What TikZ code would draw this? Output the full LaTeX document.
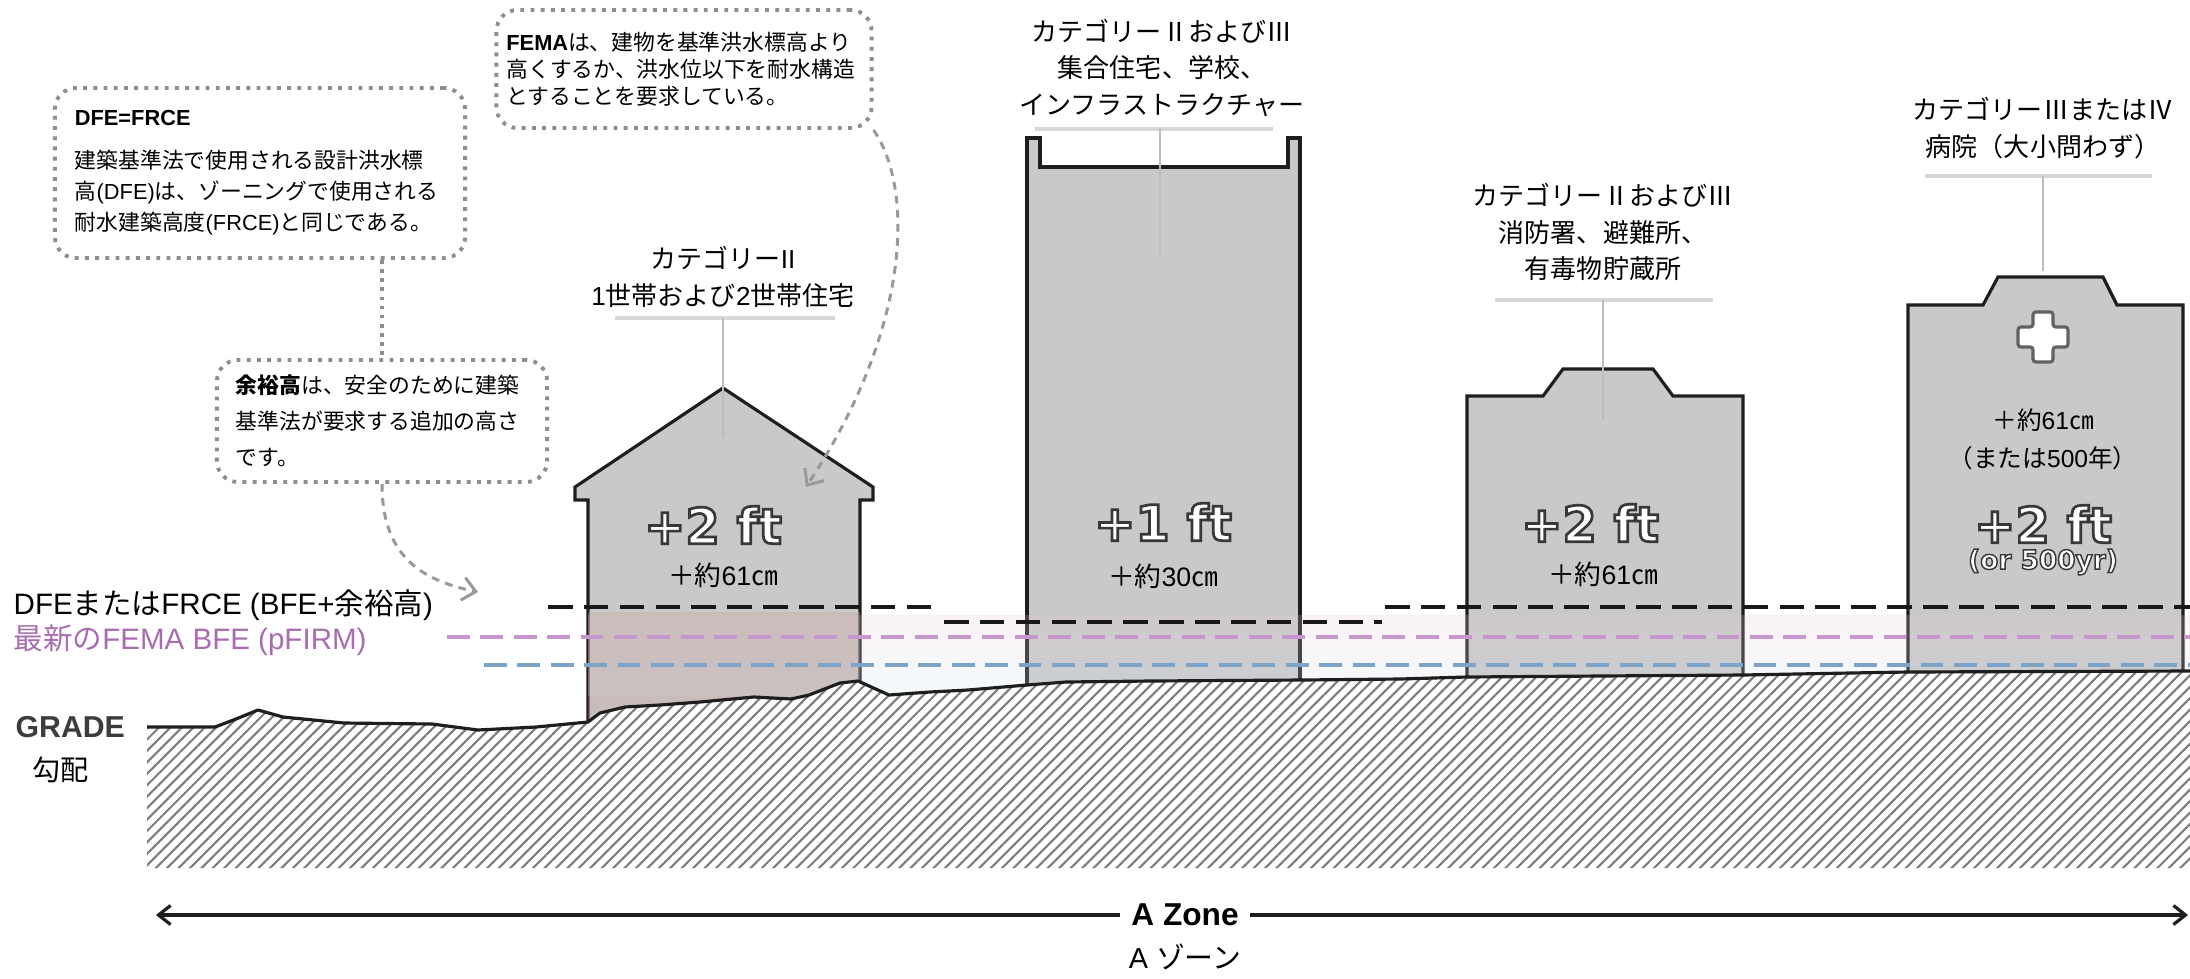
\documentclass[tikz,border=0pt]{standalone}
\usepackage{fontspec}
\setmainfont{Liberation Sans}
\newfontfamily\jafont{Noto Sans CJK JP}
\newfontface\riseface{DejaVu Sans Bold}[FakeBold=5.5]
\usetikzlibrary{arrows.meta,patterns.meta}

% Japanese characters are set in the CJK face automatically
\XeTeXinterchartokenstate=1
\chardef\JaClass=77
\newcount\jacode
\newcommand{\jarange}[2]{\jacode=#1\relax
  \loop\ifnum\jacode<#2\relax
    \XeTeXcharclass\jacode=\JaClass
    \advance\jacode by 1
  \repeat}
\jarange{"2160}{"2190}
\jarange{"3000}{"A000}
\jarange{"FF00}{"FFF0}
\XeTeXinterchartoks 0 \JaClass = {\begingroup\jafont}
\XeTeXinterchartoks 4095 \JaClass = {\begingroup\jafont}
\XeTeXinterchartoks \JaClass 0 = {\endgroup}
\XeTeXinterchartoks \JaClass 4095 = {\endgroup}

\definecolor{WallGray}{HTML}{C9C9C9}
\definecolor{InkBlack}{HTML}{1E1E1E}
\definecolor{NoteGray}{HTML}{8E8E8E}
\definecolor{LeadGray}{HTML}{BDBDBD}
\definecolor{RuleGray}{HTML}{D7D7D7}
\definecolor{BfePurple}{HTML}{C597CC}
\definecolor{BfeText}{HTML}{A96CB0}
\definecolor{PrelimBlue}{HTML}{7CA4C9}
\definecolor{HatchGray}{HTML}{7C7C7C}
\definecolor{GradeInk}{HTML}{3C3C3C}
\definecolor{FloodPink}{HTML}{EAC8D4}
\definecolor{FloodBlue}{HTML}{CFE6F3}
\definecolor{HouseTint}{HTML}{C7A49B}
\definecolor{RiseEdge}{HTML}{626262}

\newcommand{\notefont}{\fontsize{6.2}{8.8}\selectfont}
\newcommand{\catfont}{\fontsize{7.4}{10.5}\selectfont}
\newcommand{\metricfont}{\fontsize{7.6}{9.5}\selectfont}
\newcommand{\legendfont}{\fontsize{8.4}{10}\selectfont}
\newcommand{\bigrise}{\riseface\fontsize{14}{16}\selectfont}
\newcommand{\smallrise}{\riseface\fontsize{7.5}{9}\selectfont}
% white letters, dark stroke round them
\newcommand{\rimmed}[1]{\special{pdf:code 0.22 0.22 0.22 RG}#1}

\tikzset{
  building/.style={fill=WallGray,draw=InkBlack,line width=0.9pt,line join=miter},
  callout/.style={draw=NoteGray,line width=1.1pt,dash pattern=on 1.1pt off 1.8pt,
              rounded corners=6pt,fill=white,align=left,font=\notefont},
  notelink/.style={draw=NoteGray,line width=0.9pt,dash pattern=on 1pt off 1.6pt},
  pointer/.style={draw=NoteGray!90,line width=0.85pt,dash pattern=on 2.2pt off 1.8pt,
              -{Straight Barb[length=1.3mm,width=2.3mm]}},
  category/.style={align=center,font=\catfont,inner sep=1pt},
  rulebar/.style={draw=RuleGray,line width=0.9pt},
  leader/.style={draw=LeadGray,line width=0.45pt},
  metric/.style={align=center,font=\metricfont,inner sep=1pt},
  rise/.style={inner sep=0pt,text=white},
  crossmark/.style={fill=white,draw=RiseEdge,line width=0.9pt,rounded corners=0.8pt},
  dfeline/.style={draw=black!90,line width=1.2pt,dash pattern=on 7pt off 3.2pt},
  bfeline/.style={draw=BfePurple,line width=1pt,dash pattern=on 6.5pt off 3pt},
  prelimline/.style={draw=PrelimBlue,line width=1pt,dash pattern=on 6.5pt off 3pt},
  gradeline/.style={draw=InkBlack,line width=0.9pt,line join=round},
  zonearrow/.style={draw=InkBlack,line width=0.9pt}
}

\begin{document}
\begin{tikzpicture}[x=0.01cm,y=-0.01cm]
  \fill[white] (0,0) rectangle (2190,978);
  \useasboundingbox (0,0) rectangle (2190,978);

  % buildings
  \draw[building] (588,740) -- (588,500) -- (575,500) -- (575,487) -- (723,388)
    -- (873,487) -- (873,500) -- (860,500) -- (860,740) -- cycle;
  \draw[building] (1027,740) -- (1027,138) -- (1040,138) -- (1040,167) -- (1288,167)
    -- (1288,138) -- (1300,138) -- (1300,740) -- cycle;
  \draw[building] (1467,740) -- (1467,396) -- (1543,396) -- (1563,369) -- (1653,369)
    -- (1673,396) -- (1743,396) -- (1743,740) -- cycle;
  \draw[building] (1908,740) -- (1908,305) -- (1983,305) -- (1998,277) -- (2103,277)
    -- (2117,305) -- (2183,305) -- (2183,740) -- cycle;

  % flood band
  \shade[top color=FloodPink,bottom color=FloodBlue,opacity=0.22] (588,615) rectangle (2190,695);
  \fill[HouseTint,opacity=0.3] (588,612) rectangle (860,730);

  % ground
  \foreach \gx/\gy [count=\i] in {147/727,215/727,236/719,258/710,283/717,344/723,
      432/724,478/730,536/727,588/722,600/713,625/707,660/705,700/702,754/697,
      791/699,809/695,840/683,858/681,889/695,930/692,968/690,1027/685,1066/682,
      1150/681,1302/680,1400/679,1467/677,1600/676,1743/675,1850/673,1908/672,2190/671}
    \coordinate (g\i) at (\gx,\gy);
  \fill[white] (g1) \foreach \i in {2,...,33} {-- (g\i)} -- (2190,868) -- (147,868) -- cycle;
  \fill[pattern={Lines[angle=45,distance=2.3pt,line width=0.6pt]},pattern color=HatchGray]
    (g1) \foreach \i in {2,...,33} {-- (g\i)} -- (2190,868) -- (147,868) -- cycle;
  \draw[gradeline] (g1) \foreach \i in {2,...,33} {-- (g\i)};

  % flood levels
  \coordinate (dfeA) at (548,607);  \coordinate (dfeB) at (941,607);
  \coordinate (dfeC) at (944,622);  \coordinate (dfeD) at (1382,622);
  \coordinate (dfeE) at (1385,607); \coordinate (dfeF) at (2190,607);
  \coordinate (bfeA) at (447,637);  \coordinate (bfeB) at (2190,637);
  \coordinate (preA) at (484,665);  \coordinate (preB) at (2190,665);
  \draw[dfeline] (dfeA) -- (dfeB);
  \draw[dfeline] (dfeC) -- (dfeD);
  \draw[dfeline] (dfeE) -- (dfeF);
  \draw[bfeline] (bfeA) -- (bfeB);
  \draw[prelimline] (preA) -- (preB);

  % categories
  \node[category] (cat2) at (723,277) {カテゴリーII\\1世帯および2世帯住宅};
  \node[category] (cat23a) at (1162,68) {カテゴリーⅡおよびⅢ\\集合住宅、学校、\\インフラストラクチャー};
  \node[category] (cat23b) at (1603,232) {カテゴリーⅡおよびⅢ\\消防署、避難所、\\有毒物貯蔵所};
  \node[category] (cat34) at (2043,128) {カテゴリーⅢまたはⅣ\\病院（大小問わず）};
  \draw[rulebar] (615,318) -- (835,318);
  \draw[rulebar] (1035,129) -- (1273,129);
  \draw[rulebar] (1495,300) -- (1713,300);
  \draw[rulebar] (1925,176) -- (2152,176);
  \coordinate (cat2top) at (723,318);    \coordinate (cat2foot) at (723,438);
  \coordinate (cat23atop) at (1160,129); \coordinate (cat23afoot) at (1160,254);
  \coordinate (cat23btop) at (1603,300); \coordinate (cat23bfoot) at (1603,420);
  \coordinate (cat34top) at (2043,176);  \coordinate (cat34foot) at (2043,271);
  \draw[leader] (cat2top) -- (cat2foot);
  \draw[leader] (cat23atop) -- (cat23afoot);
  \draw[leader] (cat23btop) -- (cat23bfoot);
  \draw[leader] (cat34top) -- (cat34foot);

  % required rise
  \node[rise,font=\bigrise] (houserise) at (713,525) {\rimmed{+2 ft}};
  \node[rise,font=\bigrise] (towerrise) at (1163,522) {\rimmed{+1 ft}};
  \node[rise,font=\bigrise] (stationrise) at (1590,523) {\rimmed{+2 ft}};
  \node[rise,font=\bigrise] (clinicrise) at (2043,524) {\rimmed{+2 ft}};
  \node[rise,font=\smallrise] (clinicyear) at (2043,562) {\rimmed{(or 500yr)}};
  \node[metric] (housecm) at (723,575) {＋約61㎝};
  \node[metric] (towercm) at (1163,576) {＋約30㎝};
  \node[metric] (stationcm) at (1603,574) {＋約61㎝};
  \node[metric,font=\fontsize{7}{10.8}\selectfont] (cliniccm) at (2043,439) {＋約61㎝\\（または500年）};
  \draw[crossmark] (2033,312) -- (2053,312) -- (2053,327) -- (2068,327) -- (2068,347)
    -- (2053,347) -- (2053,362) -- (2033,362) -- (2033,347) -- (2018,347)
    -- (2018,327) -- (2033,327) -- cycle;

  % legend and grade
  \node[anchor=west,font=\legendfont,inner sep=0pt] (dfelbl) at (13,605) {DFEまたはFRCE (BFE+余裕高)};
  \node[anchor=west,font=\legendfont,text=BfeText,inner sep=0pt] (bfelbl) at (13,640) {最新のFEMA BFE (pFIRM)};
  \node[anchor=west,font=\fontsize{8.6}{10}\selectfont\bfseries,text=GradeInk,inner sep=0pt] (grade) at (15,727) {GRADE};
  \node[font=\fontsize{8}{10}\selectfont,inner sep=0pt] (gradeja) at (61,770) {勾配};

  % zone
  \coordinate (zoneW) at (156,915);
  \coordinate (zoneE) at (2188,915);
  \node[font=\fontsize{9}{11}\selectfont\bfseries,fill=white,inner xsep=3pt,inner ysep=1pt] (zone) at (1185,915) {A Zone};
  \draw[zonearrow,{Straight Barb[length=1.2mm,width=1.9mm]}-] (zoneW) -- (zone);
  \draw[zonearrow,-{Straight Barb[length=1.2mm,width=1.9mm]}] (zone) -- (zoneE);
  \node[font=\fontsize{8.2}{10}\selectfont,inner sep=0pt] (zoneja) at (1185,957) {A ゾーン};

  % notes
  \node[callout,text width=3.7cm,inner xsep=0.2cm,minimum height=1.7cm] (dfebox) at (260,173)
    {{\bfseries DFE=FRCE}\\[3.4pt]%
     建築基準法で使用される設計洪水標\\%
     高(DFE)は、ゾーニングで使用される\\%
     耐水建築高度(FRCE)と同じである。};
  \node[callout,text width=3.55cm,inner xsep=0.1cm,minimum height=1.18cm,
        font=\fontsize{6.2}{7.7}\selectfont] (femabox) at (684,69)
    {{\bfseries FEMA}は、建物を基準洪水標高より\\%
     高くするか、洪水位以下を耐水構造\\%
     とすることを要求している。};
  \node[callout,text width=2.92cm,inner xsep=0.19cm,minimum height=1.22cm,
        font=\fontsize{6.2}{10.2}\selectfont] (yldbox) at (382,421)
    {{\bfseries 余裕高}は、安全のために建築\\%
     基準法が要求する追加の高さ\\%
     です。};
  \coordinate (dfetip) at (478,592);
  \coordinate (rooftip) at (806,487);
  \draw[notelink] (dfebox.south -| yldbox.north) -- (yldbox.north);
  \draw[pointer] (yldbox.south) .. controls (382,555) and (420,580) .. (dfetip);
  \draw[pointer] (femabox.south east) .. controls (915,190) and (910,330) .. (rooftip);
\end{tikzpicture}
\end{document}
